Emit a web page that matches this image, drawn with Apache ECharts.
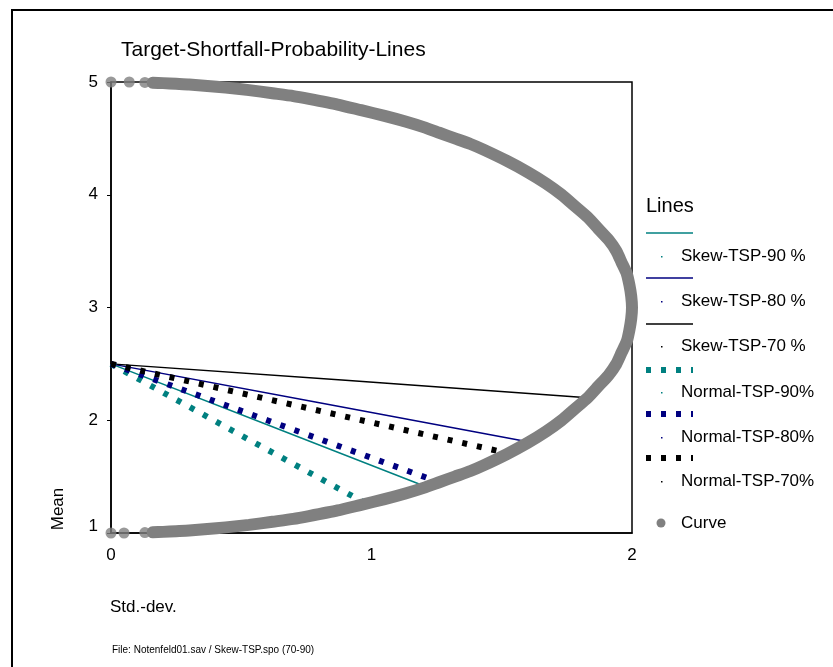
<!DOCTYPE html>
<html>
<head>
<meta charset="utf-8">
<title>Target-Shortfall-Probability-Lines</title>
<script src="https://cdn.jsdelivr.net/npm/echarts@6/dist/echarts.min.js"></script>
<style>
  html, body { margin: 0; padding: 0; background: #fff; }
  #chart { width: 833px; height: 667px; }
</style>
</head>
<body>
<div id="chart"></div>
<script>
// 数据：标准差 / 均值
const xTicks = [0, 1, 2];
const yTicks = [1, 2, 3, 4, 5];

const skew90 = [[0, 2.5], [0.6, 1.96], [1.21, 1.41]];
const skew80 = [[0, 2.5], [0.8, 2.155], [1.6, 1.81]];
const skew70 = [[0, 2.5], [0.9, 2.355], [1.83, 2.2]];
const normal90 = [[0, 2.5], [0.5, 1.865], [0.98, 1.26]];
const normal80 = [[0, 2.5], [0.6, 2.0], [1.26, 1.45]];
const normal70 = [[0, 2.5], [0.75, 2.11], [1.52, 1.71]];

// Curve: separate dots near the ends, continuous band in between
const curveDotsTop = [[0, 5], [0.07, 5], [0.13, 4.996]];
const curveBand = [
  [0.16, 4.994], [0.2, 4.99], [0.25, 4.984], [0.3, 4.978], [0.37, 4.965], [0.44, 4.95],
  [0.53, 4.928], [0.62, 4.9], [0.7, 4.875], [0.76, 4.85], [0.87, 4.8], [0.96, 4.75],
  [1.05, 4.7], [1.13, 4.65], [1.2, 4.6], [1.26, 4.55], [1.32, 4.5], [1.38, 4.45],
  [1.43, 4.4], [1.52, 4.3], [1.6, 4.2], [1.67, 4.1], [1.73, 4.0], [1.78, 3.9],
  [1.83, 3.8], [1.87, 3.7], [1.91, 3.6], [1.94, 3.5], [1.96, 3.4], [1.98, 3.3],
  [1.99, 3.2], [1.997, 3.1], [2.0, 3.0], [1.997, 2.9], [1.99, 2.8], [1.98, 2.7],
  [1.96, 2.6], [1.94, 2.5], [1.91, 2.4], [1.87, 2.3], [1.83, 2.2], [1.78, 2.1],
  [1.73, 2.0], [1.67, 1.9], [1.6, 1.8], [1.52, 1.7], [1.43, 1.6], [1.38, 1.55],
  [1.32, 1.5], [1.26, 1.45], [1.2, 1.4], [1.13, 1.35], [1.05, 1.3], [0.96, 1.25],
  [0.87, 1.2], [0.76, 1.15], [0.7, 1.125], [0.62, 1.1], [0.53, 1.072], [0.44, 1.05],
  [0.37, 1.035], [0.3, 1.022], [0.25, 1.016], [0.2, 1.01], [0.16, 1.006]
];
const curveDotsBottom = [[0.13, 1.004], [0.05, 1], [0, 1]];

const lineNames = ["Skew-TSP-90 %", "Skew-TSP-80 %", "Skew-TSP-70 %",
                   "Normal-TSP-90%", "Normal-TSP-80%", "Normal-TSP-70%"];
const lineColors = ["#008080", "#000080", "#000000", "#008080", "#000080", "#000000"];
const lineData = [skew90, skew80, skew70, normal90, normal80, normal70];

(function(){
    const FONT = "'Liberation Sans', Arial, sans-serif";
    const GRAY = "#808080";
    const myChart = echarts.init(document.getElementById("chart"));

    // 线条系列
    const series = lineData.map(function(d, i) {
        const dotted = i >= 3;
        return {
            name: lineNames[i],
            type: "line",
            data: d,
            showSymbol: false,
            silent: true,
            lineStyle: {
                color: lineColors[i],
                width: dotted ? 6 : 1.5,
                type: dotted ? [5, 10] : "solid",
                cap: "butt"
            },
            z: 2
        };
    });

    // 曲线
    series.push({
        name: "Curve",
        type: "line",
        data: curveBand,
        smooth: 0.2,
        showSymbol: false,
        lineStyle: { color: GRAY, width: 12, cap: "round", join: "round" },
        z: 3
    });
    series.push({
        name: "Curve",
        type: "scatter",
        data: curveDotsTop.concat(curveDotsBottom),
        symbolSize: 11,
        itemStyle: { color: GRAY },
        z: 3
    });

    // 图例（手动绘制：线样 + 小点 + 文字）
    const legendLineY = [233, 278, 324, 370, 414, 458];
    const legendTextY = [256, 301, 346, 392, 437, 481];
    const graphics = [
        // outer frame (top / left)
        { type: "polyline", silent: true,
          shape: { points: [[12, 667], [12, 10], [833, 10]] },
          style: { stroke: "#000", lineWidth: 2, fill: null } },
        { type: "text", silent: true, left: 646, top: 196,
          style: { text: "Lines", font: "20px " + FONT, fill: "#000" } },
        { type: "text", silent: true, x: 58, y: 509, rotation: Math.PI / 2,
          style: { text: "Mean", font: "17px " + FONT, fill: "#000", align: "center", verticalAlign: "middle" } },
        { type: "text", silent: true, left: 110, top: 599,
          style: { text: "Std.-dev.", font: "17px " + FONT, fill: "#000" } },
        { type: "text", silent: true, left: 112, top: 645,
          style: { text: "File: Notenfeld01.sav / Skew-TSP.spo (70-90)", font: "10px " + FONT, fill: "#000" } }
    ];
    lineNames.forEach(function(name, i) {
        const dotted = i >= 3;
        graphics.push({
            type: "line", silent: true,
            shape: { x1: 646, y1: legendLineY[i], x2: 693, y2: legendLineY[i] },
            style: { stroke: lineColors[i], lineWidth: dotted ? 6 : 1.5, lineDash: dotted ? [5, 10] : null }
        });
        graphics.push({
            type: "rect", silent: true,
            shape: { x: 661, y: legendTextY[i], width: 1.5, height: 1.5 },
            style: { fill: lineColors[i] }
        });
        graphics.push({
            type: "text", silent: true, x: 681, y: legendTextY[i],
            style: { text: name, font: "17px " + FONT, fill: "#000", verticalAlign: "middle" }
        });
    });
    graphics.push({
        type: "circle", silent: true,
        shape: { cx: 661, cy: 523, r: 4.5 },
        style: { fill: GRAY }
    });
    graphics.push({
        type: "text", silent: true, x: 681, y: 523,
        style: { text: "Curve", font: "17px " + FONT, fill: "#000", verticalAlign: "middle" }
    });

    const option = {
        animation: false,
        backgroundColor: "#fff",
        title: {
            text: "Target-Shortfall-Probability-Lines",
            left: 116,
            top: 35,
            textStyle: { fontFamily: FONT, fontSize: 21, fontWeight: "normal", color: "#000" }
        },
        grid: {
            left: 111,
            right: 201,
            top: 82,
            bottom: 134,
            show: true,
            borderColor: "#000",
            borderWidth: 1.5,
            backgroundColor: "transparent"
        },
        xAxis: {
            type: "value",
            min: xTicks[0],
            max: xTicks[xTicks.length - 1],
            interval: 1,
            axisLine: { lineStyle: { color: "#000", width: 1.5 } },
            axisTick: { show: false },
            splitLine: { show: false },
            axisLabel: { color: "#000", fontFamily: FONT, fontSize: 17, margin: 14 }
        },
        yAxis: {
            type: "value",
            min: yTicks[0],
            max: yTicks[yTicks.length - 1],
            interval: 1,
            axisLine: { show: true, lineStyle: { color: "#000", width: 1.5 } },
            axisTick: { show: true, length: 4, lineStyle: { color: "#000" } },
            splitLine: { show: false },
            axisLabel: {
                color: "#000", fontFamily: FONT, fontSize: 17, margin: 13,
                // 最下方的 "1" 稍微上移，与原图一致
                formatter: function(v) { return v === 1 ? "{low|1}" : String(v); },
                rich: { low: { fontFamily: FONT, fontSize: 17, color: "#000", padding: [0, 0, 14, 0] } }
            }
        },
        graphic: graphics,
        series: series
    };
    myChart.setOption(option);

    window.addEventListener("resize", function() {
        myChart.resize();
    });
})();
</script>
</body>
</html>
